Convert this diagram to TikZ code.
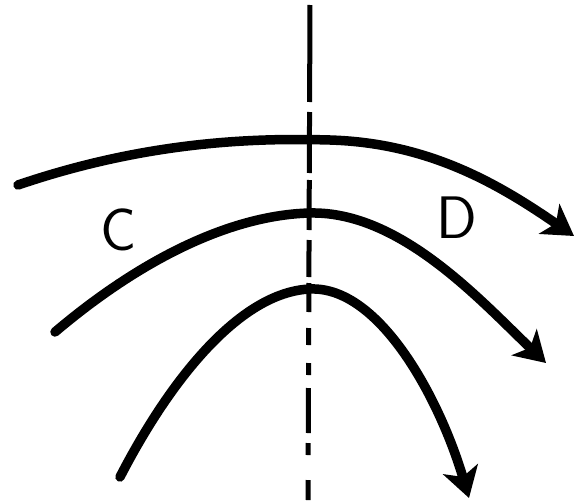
\documentclass[tikz,border=0pt]{standalone}
\usetikzlibrary{arrows.meta}
\begin{document}
\begin{tikzpicture}[x=1pt,y=-1pt,
  curve/.style={line width=9.5pt, line cap=round, -{Stealth[length=30pt,width=36pt,inset=8pt]}},
  axisline/.style={line width=5pt},
  lbl/.style={font=\sffamily\fontsize{60}{62}\selectfont, inner sep=0pt}]
\useasboundingbox (0,0) rectangle (575,503);
% dashed vertical axis
\foreach \a/\b in {5/102,112/173,180/230,240/277,283/312,328/345,363/375,388/433,443/455,480/500}
  \draw[axisline] (310-\a*0.004,\a) -- (310-\b*0.004,\b);
% curves
\draw[curve] (18,185) .. controls (150,140) and (260,138) .. (330,140)
  .. controls (430,143) and (500,185) .. (574,236);
\draw[curve] (55,332) .. controls (140,260) and (230,215) .. (310,213)
  .. controls (400,211) and (480,300) .. (546,363);
\draw[curve] (120,477) .. controls (170,380) and (240,292) .. (310,289)
  .. controls (380,286) and (440,400) .. (469,498);
% labels
\node[lbl] (C) at (119,230) {C};
\node[lbl] (D) at (457,218) {D};
\end{tikzpicture}
\end{document}
